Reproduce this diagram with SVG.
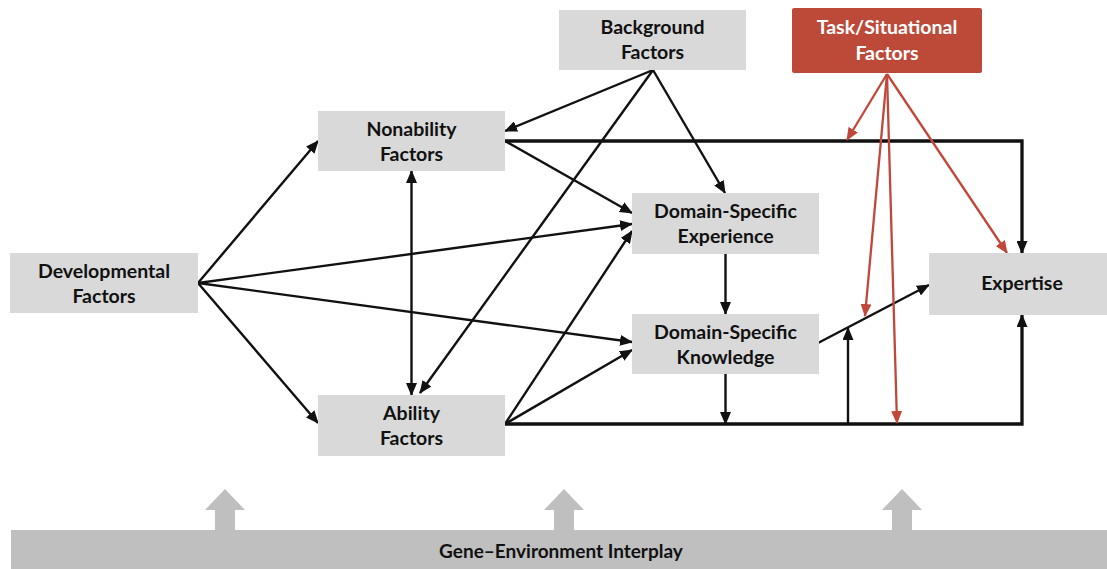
<svg xmlns="http://www.w3.org/2000/svg" width="1107" height="569" viewBox="0 0 1107 569">
<style>
.box{fill:#d9d9d9}
.lbl{font-family:Lato,"Liberation Sans",Arial,sans-serif;font-weight:bold;font-size:19.5px;fill:#111;text-anchor:middle}
.wl{fill:#fff}
.ge-t{font-size:19px}
.ln{stroke:#111;stroke-width:2.4;fill:none}
.thick{stroke:#111;stroke-width:3.3;fill:none}
.red{stroke:#c0473a;stroke-width:2.3;fill:none}
.ge{fill:#bfbfbf}
</style>
<defs>
<marker id="ab" markerUnits="userSpaceOnUse" markerWidth="13" markerHeight="11" refX="12" refY="5.5" orient="auto-start-reverse" viewBox="0 0 13 11">
<path d="M0,0 L13,5.5 L0,11 z" fill="#111"/>
</marker>
<marker id="ar" markerUnits="userSpaceOnUse" markerWidth="13" markerHeight="11" refX="12" refY="5.5" orient="auto" viewBox="0 0 13 11">
<path d="M0,0 L13,5.5 L0,11 z" fill="#c0473a"/>
</marker>
</defs>

<g id="gene-environment">
<rect class="ge" x="11" y="530" width="1096" height="39"/>
<polygon class="ge" points="215,531 215,510 205,510 225,489 245,510 235,510 235,531"/>
<polygon class="ge" points="554,531 554,510 544,510 564,489 584,510 574,510 574,531"/>
<polygon class="ge" points="892,531 892,510 882,510 902,489 922,510 912,510 912,531"/>
<text class="lbl ge-t" x="561" y="558">Gene–Environment Interplay</text>
</g>

<g id="connectors">
<line class="ln" x1="198" y1="283" x2="318" y2="141" marker-end="url(#ab)"/>
<line class="ln" x1="198" y1="283" x2="318" y2="423" marker-end="url(#ab)"/>
<line class="ln" x1="198" y1="283" x2="632" y2="224" marker-end="url(#ab)"/>
<line class="ln" x1="198" y1="283" x2="632" y2="342" marker-end="url(#ab)"/>
<line class="ln" x1="411.5" y1="171" x2="411.5" y2="395" marker-start="url(#ab)" marker-end="url(#ab)"/>
<line class="ln" x1="653" y1="70" x2="505" y2="131" marker-end="url(#ab)"/>
<line class="ln" x1="653" y1="70" x2="420" y2="393" marker-end="url(#ab)"/>
<line class="ln" x1="653" y1="70" x2="725" y2="193" marker-end="url(#ab)"/>
<line class="ln" x1="505" y1="141" x2="632" y2="213" marker-end="url(#ab)"/>
<line class="ln" x1="505" y1="424" x2="632" y2="231" marker-end="url(#ab)"/>
<line class="ln" x1="505" y1="424" x2="632" y2="350" marker-end="url(#ab)"/>
<line class="ln" x1="725.5" y1="254" x2="725.5" y2="314" marker-end="url(#ab)"/>
<line class="ln" x1="725.5" y1="374" x2="725.5" y2="424" marker-end="url(#ab)"/>
<polyline class="thick" points="505,141 1022,141 1022,253" marker-end="url(#ab)"/>
<polyline class="thick" points="505,424 1022,424 1022,315" marker-end="url(#ab)"/>
<line class="ln" x1="818" y1="343" x2="929" y2="285" marker-end="url(#ab)"/>
<line class="ln" x1="848" y1="424" x2="848" y2="328" marker-end="url(#ab)"/>
<line class="red" x1="887" y1="74" x2="847" y2="140" marker-end="url(#ar)"/>
<line class="red" x1="887" y1="74" x2="865" y2="316" marker-end="url(#ar)"/>
<line class="red" x1="887" y1="74" x2="897" y2="423" marker-end="url(#ar)"/>
<line class="red" x1="887" y1="74" x2="1007" y2="253" marker-end="url(#ar)"/>
</g>

<g id="background-factors">
<rect class="box" x="559" y="10" width="187" height="60"/>
<text class="lbl" x="652.5" y="34">Background</text>
<text class="lbl" x="652.5" y="59">Factors</text>
</g>

<g id="task-situational-factors">
<rect x="792" y="8" width="190" height="65" rx="2" fill="#bd4a38"/>
<text class="lbl wl" x="887" y="34">Task/Situational</text>
<text class="lbl wl" x="887" y="60">Factors</text>
</g>

<g id="nonability-factors">
<rect class="box" x="318" y="111" width="187" height="60"/>
<text class="lbl" x="411.5" y="136">Nonability</text>
<text class="lbl" x="411.5" y="161">Factors</text>
</g>

<g id="developmental-factors">
<rect class="box" x="10" y="253" width="188" height="60"/>
<text class="lbl" x="104" y="278">Developmental</text>
<text class="lbl" x="104" y="303">Factors</text>
</g>

<g id="ability-factors">
<rect class="box" x="318" y="395" width="187" height="61"/>
<text class="lbl" x="411.5" y="420">Ability</text>
<text class="lbl" x="411.5" y="445">Factors</text>
</g>

<g id="domain-specific-experience">
<rect class="box" x="632" y="193" width="187" height="61"/>
<text class="lbl" x="725.5" y="218">Domain-Specific</text>
<text class="lbl" x="725.5" y="243">Experience</text>
</g>

<g id="domain-specific-knowledge">
<rect class="box" x="632" y="314" width="187" height="60"/>
<text class="lbl" x="725.5" y="339">Domain-Specific</text>
<text class="lbl" x="725.5" y="364">Knowledge</text>
</g>

<g id="expertise">
<rect class="box" x="929" y="253" width="178" height="62"/>
<text class="lbl" x="1022" y="290">Expertise</text>
</g>
</svg>
